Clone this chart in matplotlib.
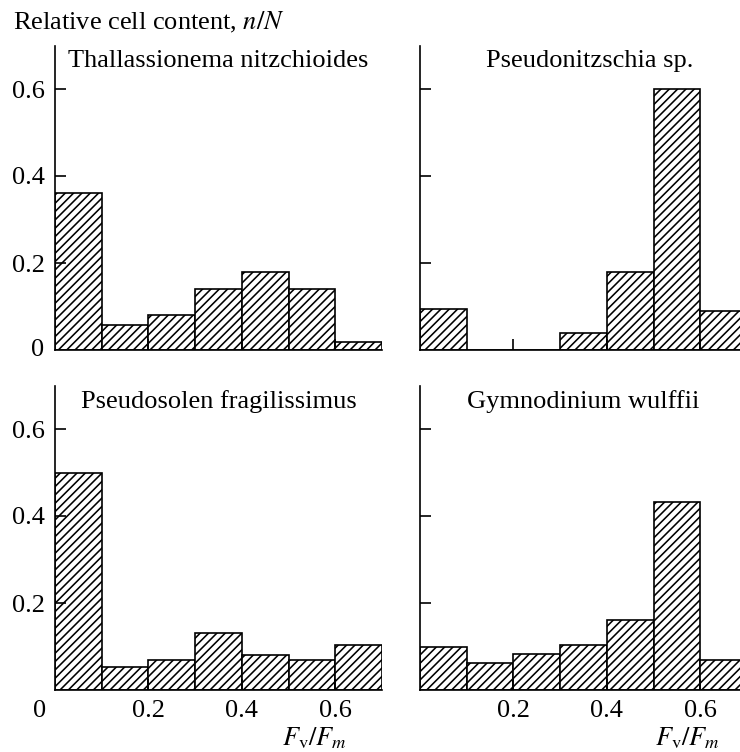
import matplotlib
matplotlib.use('Agg')
import matplotlib.pyplot as plt
import numpy as np

plt.rcParams['font.family'] = 'Liberation Serif'
plt.rcParams['mathtext.fontset'] = 'stix'
plt.rcParams['hatch.linewidth'] = 1.15

# bin edges of Fv/Fm and relative cell content n/N for each species
bin_left = [0.0, 0.1, 0.2, 0.3, 0.4, 0.5, 0.6]
bin_width = 0.1

species = ['Thallassionema nitzchioides', 'Pseudonitzschia sp.',
           'Pseudosolen fragilissimus', 'Gymnodinium wulffii']
thallassionema = [0.36, 0.057, 0.08, 0.14, 0.18, 0.14, 0.018]
pseudonitzschia = [0.094, 0.0, 0.0, 0.04, 0.18, 0.60, 0.09]
pseudosolen = [0.50, 0.052, 0.07, 0.132, 0.08, 0.07, 0.103]
gymnodinium = [0.10, 0.061, 0.082, 0.103, 0.162, 0.433, 0.07]

y_ticks = [0.2, 0.4, 0.6]
x_ticks = [0.2, 0.4, 0.6]

FS = 19

fig = plt.figure(figsize=(7.4, 7.52), dpi=100)

# axes positions in figure fractions (left, bottom, width, height)
left_x, right_x = 55 / 740, 420 / 740
top_y, bot_y = (752 - 350) / 752, (752 - 690) / 752
w, h = 327 / 740, 304.5 / 752

axs = [fig.add_axes([left_x, top_y, w, h]),
       fig.add_axes([right_x, top_y, w, h]),
       fig.add_axes([left_x, bot_y, w, h]),
       fig.add_axes([right_x, bot_y, w, h])]

data = [thallassionema, pseudonitzschia, pseudosolen, gymnodinium]
title_x = [0.5, 0.52, 0.5, 0.5]

for i, (ax, values, name) in enumerate(zip(axs, data, species)):
    ax.bar(bin_left, values, width=bin_width, align='edge', color='white',
           edgecolor='black', linewidth=1.2, hatch='////')
    ax.set_xlim(0, 0.7)
    ax.set_ylim(0, 0.7)
    ax.spines['top'].set_visible(False)
    ax.spines['right'].set_visible(False)
    ax.spines['left'].set_linewidth(1.2)
    ax.spines['bottom'].set_linewidth(1.2)
    ax.tick_params(direction='in', length=8, width=1.2, labelsize=FS, pad=7)
    ax.set_xticks(x_ticks)
    ax.set_yticks(y_ticks)
    ax.text(title_x[i], 0.985, name, transform=ax.transAxes, ha='center', va='top',
            fontsize=FS)

    if i % 2 == 1:
        ax.set_yticklabels([])
    else:
        ax.set_yticklabels(['0.2', '0.4', '0.6'])
    if i < 2:
        ax.set_xticklabels([])
    else:
        ax.set_xticklabels(['0.2', '0.4', '0.6'])
        ax.set_xlabel(r'$F_\mathrm{v}/F_m$', fontsize=FS, ha='right')

axs[2].xaxis.set_label_coords(0.893, -0.115)
axs[3].xaxis.set_label_coords(0.917, -0.115)

# zero labels
axs[0].annotate('0', xy=(0, 0), xytext=(-8, 0), textcoords='offset points',
                ha='right', va='center', fontsize=FS)
axs[2].annotate('0', xy=(0, 0), xytext=(-11, -7), textcoords='offset points',
                ha='center', va='top', fontsize=FS)

fig.text(13 / 740, 1 - 22 / 752, 'Relative cell content, $n/N$', ha='left', va='center',
         fontsize=FS)

plt.savefig('out.png', dpi=100)
plt.close()
